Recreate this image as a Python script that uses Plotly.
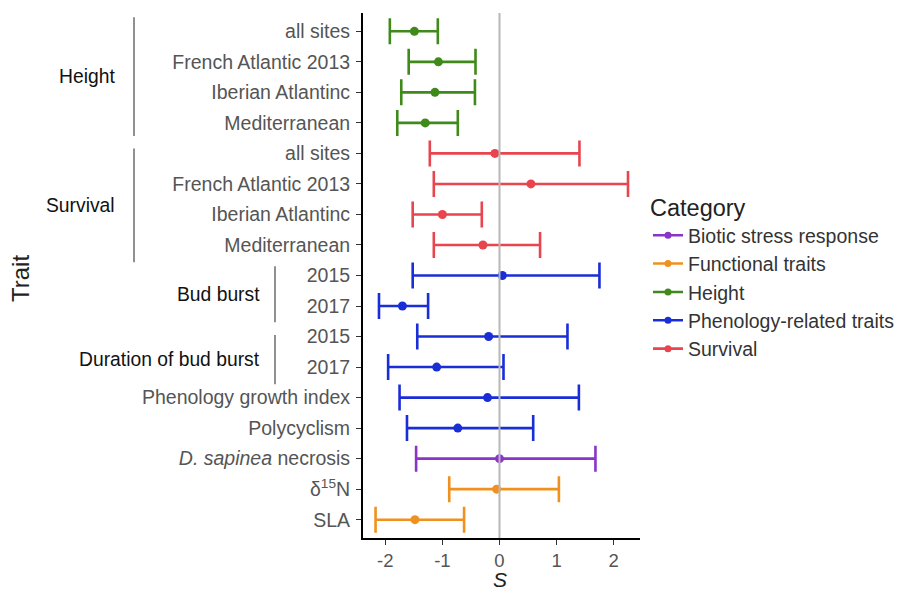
import plotly.graph_objects as go

# ---- data ---------------------------------------------------------------
row_labels = [
    "all sites", "French Atlantic 2013", "Iberian Atlantinc", "Mediterranean",
    "all sites", "French Atlantic 2013", "Iberian Atlantinc", "Mediterranean",
    "2015", "2017", "2015", "2017",
    "Phenology growth index", "Polycyclism", "<i>D. sapinea</i> necrosis",
    "δ<sup>15</sup>N", "SLA",
]
row_category = [
    "Height", "Height", "Height", "Height",
    "Survival", "Survival", "Survival", "Survival",
    "Phenology-related traits", "Phenology-related traits",
    "Phenology-related traits", "Phenology-related traits",
    "Phenology-related traits", "Phenology-related traits",
    "Biotic stress response", "Functional traits", "Functional traits",
]
s_estimate = [-1.49, -1.07, -1.13, -1.30, -0.08, 0.55, -1.00, -0.29,
              0.05, -1.70, -0.19, -1.10, -0.21, -0.73, 0.00, -0.05, -1.48]
s_lower = [-1.92, -1.59, -1.72, -1.79, -1.22, -1.15, -1.52, -1.15,
           -1.52, -2.11, -1.44, -1.95, -1.75, -1.62, -1.46, -0.88, -2.17]
s_upper = [-1.08, -0.42, -0.43, -0.73, 1.40, 2.25, -0.31, 0.71,
           1.75, -1.25, 1.19, 0.07, 1.39, 0.59, 1.68, 1.04, -0.62]

legend_order = ["Biotic stress response", "Functional traits", "Height",
                "Phenology-related traits", "Survival"]
category_colors = {
    "Biotic stress response": "#8a35c8",
    "Functional traits": "#f0911f",
    "Height": "#3f8a1a",
    "Phenology-related traits": "#1a2ed8",
    "Survival": "#e8454e",
}

# grouping brackets to the left of the tick labels: (label, first row, last row)
groups = [
    ("Height", -0.46, 3.43, "outer"),
    ("Survival", 3.84, 7.57, "outer"),
    ("Bud burst", 7.70, 9.53, "inner"),
    ("Duration of bud burst", 9.95, 11.56, "inner"),
]

x_ticks = [-2, -1, 0, 1, 2]

# ---- figure -------------------------------------------------------------
FONT = "Liberation Sans, Arial, sans-serif"
W, H = 911, 593
L, R, T, B = 363, 271, 13, 55
plot_w = W - L - R
plot_h = H - T - B

fig = go.Figure()

rows = list(range(len(row_labels)))
for cat in legend_order:
    idx = [i for i in rows if row_category[i] == cat]
    col = category_colors[cat]
    fig.add_trace(go.Scatter(
        x=[s_estimate[i] for i in idx],
        y=[i for i in idx],
        mode="markers",
        marker=dict(color=col, size=9),
        error_x=dict(
            type="data", symmetric=False,
            array=[s_upper[i] - s_estimate[i] for i in idx],
            arrayminus=[s_estimate[i] - s_lower[i] for i in idx],
            color=col, thickness=2.6, width=13,
        ),
        showlegend=False,
        hoverinfo="skip",
    ))

# legend entries (line + point keys)
for cat in legend_order:
    col = category_colors[cat]
    fig.add_trace(go.Scatter(
        x=[None], y=[None], mode="lines+markers", name=cat,
        line=dict(color=col, width=2.6),
        marker=dict(color=col, size=7),
    ))

# reference line at S = 0, drawn over the intervals
fig.add_shape(type="line", xref="x", yref="paper", x0=0, x1=0, y0=0, y1=1,
              line=dict(color="#b8b8b8", width=2), layer="above")


def px_to_paper_x(px):
    return (px - L) / plot_w


def px_to_paper_y(py):
    return (H - B - py) / plot_h


# group brackets and labels
for label, y0, y1, level in groups:
    line_px = 134 if level == "outer" else 275
    text_px = 117 if level == "outer" else 262
    fig.add_shape(type="line", xref="paper", yref="y",
                  x0=px_to_paper_x(line_px), x1=px_to_paper_x(line_px),
                  y0=y0, y1=y1, line=dict(color="#555555", width=1.3))
    fig.add_annotation(x=px_to_paper_x(text_px), xref="paper",
                       y=(y0 + y1) / 2, yref="y", text=label,
                       showarrow=False, xanchor="right", yanchor="middle",
                       font=dict(family=FONT, size=19.3, color="#111111"))

# axis titles
fig.add_annotation(x=px_to_paper_x(21), xref="paper", y=px_to_paper_y(279),
                   yref="paper", text="Trait", textangle=-90, showarrow=False,
                   xanchor="center", yanchor="middle",
                   font=dict(family=FONT, size=24, color="#222222"))
fig.add_annotation(x=0, xref="x", y=px_to_paper_y(579), yref="paper",
                   text="<i>S</i>", showarrow=False,
                   xanchor="center", yanchor="middle",
                   font=dict(family=FONT, size=21, color="#222222"))

fig.update_layout(
    width=W, height=H,
    margin=dict(l=L, r=R, t=T, b=B, autoexpand=False),
    plot_bgcolor="white", paper_bgcolor="white",
    font=dict(family=FONT, color="#4d4d4d"),
    xaxis=dict(
        range=[-2.39, 2.46], tickvals=x_ticks, ticktext=[str(v) for v in x_ticks],
        showgrid=False, zeroline=False,
        showline=True, linecolor="black", linewidth=2,
        ticks="outside", ticklen=5, tickwidth=1.2, tickcolor="#333333",
        tickfont=dict(family=FONT, size=18.5, color="#555555"),
    ),
    yaxis=dict(
        range=[16.6, -0.6], tickvals=rows, ticktext=row_labels,
        showgrid=False, zeroline=False,
        showline=True, linecolor="black", linewidth=2,
        ticks="outside", ticklen=5, tickwidth=1.2, tickcolor="#333333",
        tickfont=dict(family=FONT, size=19.5, color="#555555"),
        ticklabelstandoff=2,
    ),
    legend=dict(
        title=dict(text="Category", font=dict(family=FONT, size=23.5, color="#222222")),
        font=dict(family=FONT, size=19.5, color="#333333"),
        x=px_to_paper_x(648), xanchor="left", xref="paper",
        y=px_to_paper_y(277), yanchor="middle",
        bgcolor="rgba(0,0,0,0)",
    ),
)

fig.write_html("out.html")
